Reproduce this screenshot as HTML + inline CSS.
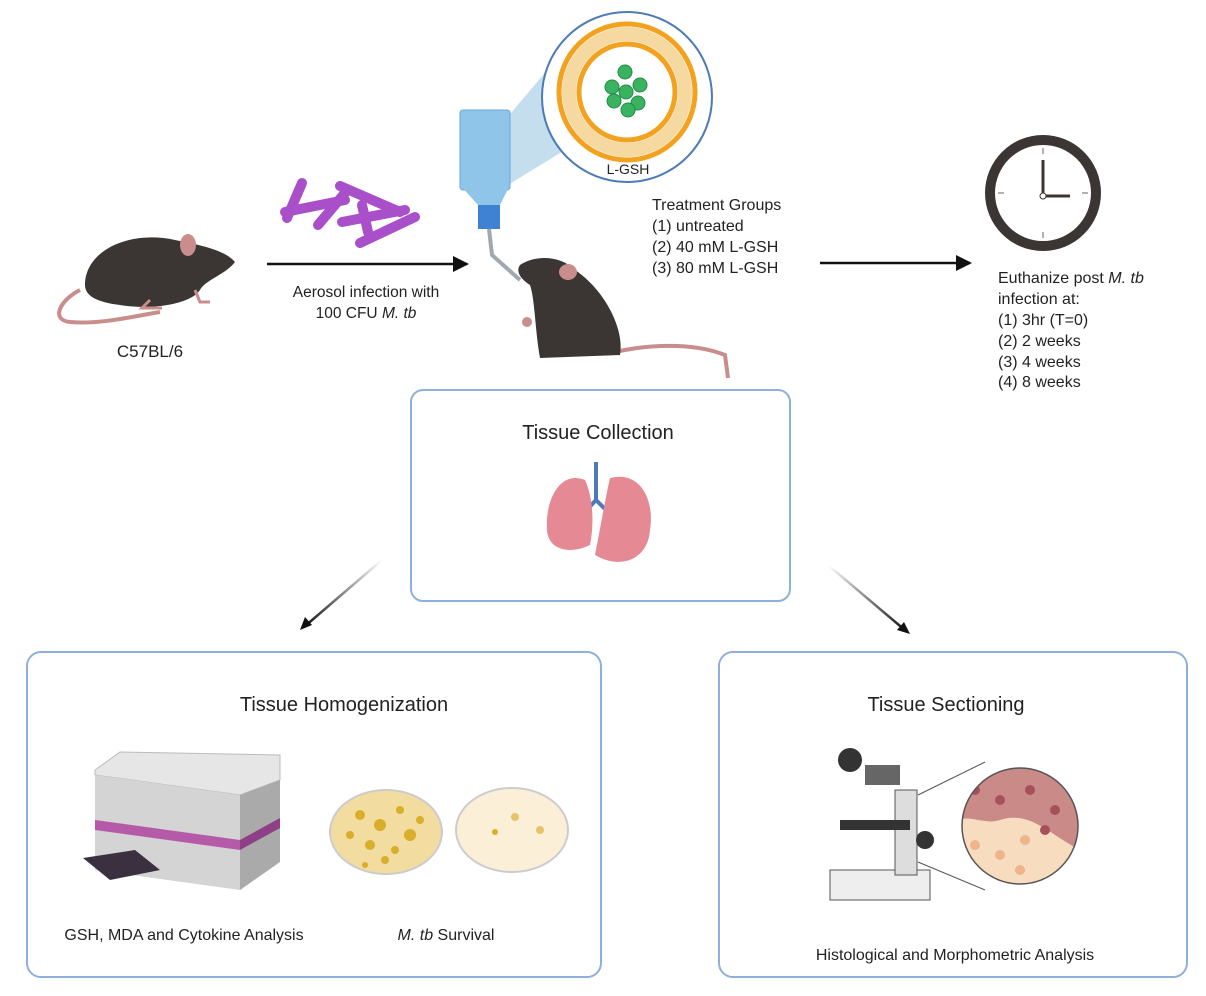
<!DOCTYPE html>
<html><head><style>
body{margin:0;background:#fff;}
svg{display:block;font-family:"Liberation Sans",sans-serif;}
</style></head><body>
<svg width="1206" height="996" viewBox="0 0 1206 996" xmlns="http://www.w3.org/2000/svg">
<defs>
<marker id="ah2" markerWidth="16" markerHeight="16" refX="14" refY="8" orient="auto" markerUnits="userSpaceOnUse"><path d="M0,0 L16,8 L0,16 z" fill="#111"/></marker>
<linearGradient id="g1" x1="1" y1="0" x2="0" y2="1"><stop offset="0" stop-color="#111" stop-opacity="0"/><stop offset="1" stop-color="#111"/></linearGradient>
<linearGradient id="g2" x1="0" y1="0" x2="1" y2="1"><stop offset="0" stop-color="#111" stop-opacity="0"/><stop offset="1" stop-color="#111"/></linearGradient>
</defs>

<!-- mouse 1 -->
<path d="M80,290 C60,300 50,320 70,322 C100,325 140,315 160,312" fill="none" stroke="#c98d8d" stroke-width="4"/>
<path d="M85,285 C85,250 130,230 175,240 C200,245 225,250 235,262 C225,275 205,280 200,290 C190,305 150,310 120,305 C95,302 85,295 85,285z" fill="#3b3633"/>
<ellipse cx="188" cy="245" rx="8" ry="11" fill="#c98d8d"/>
<path d="M150,300 l-8,8 h20 M195,290 l5,12 h10" stroke="#c98d8d" stroke-width="3" fill="none"/>
<text x="150" y="357" font-size="17" text-anchor="middle" fill="#222">C57BL/6</text>

<!-- bacteria -->
<g stroke="#a84fc9" stroke-width="10" stroke-linecap="round" fill="none">
<path d="M287,218 L302,183"/><path d="M285,212 L345,200"/><path d="M318,225 L345,193"/>
<path d="M340,186 L400,212"/><path d="M342,222 L405,210"/><path d="M360,243 L415,217"/><path d="M362,205 L368,232"/>
</g>

<!-- arrow 1 -->
<line x1="267" y1="264" x2="467" y2="264" stroke="#111" stroke-width="2.5" marker-end="url(#ah2)"/>
<text x="366" y="297" font-size="15.5" text-anchor="middle" fill="#222">Aerosol infection with</text>
<text x="366" y="318" font-size="15.5" text-anchor="middle" fill="#222">100 CFU <tspan font-style="italic">M. tb</tspan></text>

<!-- bottle -->
<polygon points="505,120 560,55 565,150 508,185" fill="#b7d6e8" opacity="0.8"/>
<rect x="460" y="110" width="50" height="80" rx="3" fill="#8fc5e8" stroke="#6aa8d8"/>
<path d="M460,185 L510,185 L500,205 L478,205z" fill="#8fc5e8"/>
<rect x="478" y="205" width="22" height="24" fill="#3f82d4"/>
<path d="M489,229 L492,255 L520,280" stroke="#a0a8b0" stroke-width="4" fill="none"/>

<!-- liposome circle -->
<circle cx="627" cy="97" r="85" fill="#fff" stroke="#4d7bb5" stroke-width="2"/>
<circle cx="627" cy="92" r="68" fill="none" stroke="#f3a21f" stroke-width="5"/>
<circle cx="627" cy="92" r="58" fill="none" stroke="#f6d9a0" stroke-width="14"/>
<circle cx="627" cy="92" r="48" fill="none" stroke="#f3a21f" stroke-width="5"/>
<g fill="#39b360" stroke="#23894a">
<circle cx="625" cy="72" r="7"/><circle cx="612" cy="87" r="7"/><circle cx="640" cy="85" r="7"/>
<circle cx="626" cy="92" r="7"/><circle cx="614" cy="101" r="7"/><circle cx="638" cy="103" r="7"/><circle cx="628" cy="110" r="7"/>
</g>
<text x="628" y="174" font-size="14" text-anchor="middle" fill="#222">L-GSH</text>

<!-- mouse 2 -->
<path d="M615,352 C660,342 700,345 725,355 L728,378" fill="none" stroke="#c98d8d" stroke-width="4"/>
<path d="M520,265 C535,255 560,255 575,270 C605,290 625,330 620,355 L540,358 C535,330 535,300 530,285 C522,280 515,272 520,265z" fill="#3b3633"/>
<ellipse cx="568" cy="272" rx="9" ry="8" fill="#c98d8d"/>
<circle cx="527" cy="322" r="5" fill="#c98d8d"/>

<!-- treatment text -->
<g font-size="16" fill="#222">
<text x="652" y="210">Treatment Groups</text>
<text x="652" y="231">(1) untreated</text>
<text x="652" y="252">(2) 40 mM L-GSH</text>
<text x="652" y="273">(3) 80 mM L-GSH</text>
</g>
<line x1="820" y1="263" x2="970" y2="263" stroke="#111" stroke-width="2.5" marker-end="url(#ah2)"/>

<!-- clock -->
<circle cx="1043" cy="193" r="58" fill="#3b3633"/>
<circle cx="1043" cy="193" r="48" fill="#fff"/>
<g stroke="#999" stroke-width="1.5">
<line x1="1043" y1="148" x2="1043" y2="154"/><line x1="1043" y1="232" x2="1043" y2="238"/>
<line x1="998" y1="193" x2="1004" y2="193"/><line x1="1082" y1="193" x2="1088" y2="193"/>
</g>
<line x1="1043" y1="196" x2="1043" y2="160" stroke="#3b3633" stroke-width="3"/>
<line x1="1043" y1="196" x2="1070" y2="196" stroke="#3b3633" stroke-width="3"/>
<circle cx="1043" cy="196" r="3" fill="#fff" stroke="#3b3633"/>
<g font-size="16" fill="#222">
<text x="998" y="283">Euthanize post <tspan font-style="italic">M. tb</tspan></text>
<text x="998" y="304">infection at:</text>
<text x="998" y="325">(1) 3hr (T=0)</text>
<text x="998" y="346">(2) 2 weeks</text>
<text x="998" y="367">(3) 4 weeks</text>
<text x="998" y="387">(4) 8 weeks</text>
</g>

<!-- tissue collection -->
<rect x="411" y="390" width="379" height="211" rx="12" fill="#fff" stroke="#8fb0dc" stroke-width="2"/>
<text x="598" y="439" font-size="20" text-anchor="middle" fill="#222">Tissue Collection</text>
<path d="M596,462 V500 L585,512 M596,500 L608,512" stroke="#4d7bb5" stroke-width="4" fill="none"/>
<path d="M585,480 C560,470 545,500 547,530 C548,550 570,555 590,545 C595,520 592,495 585,480z" fill="#e58a95"/>
<path d="M610,478 C640,470 655,500 650,530 C648,560 620,570 595,555 C600,530 605,500 610,478z" fill="#e58a95"/>

<!-- diagonal arrows -->
<line x1="382" y1="560" x2="304" y2="627" stroke="url(#g1)" stroke-width="2.5"/>
<path d="M300,630 L305,617 L312,625z" fill="#111"/>
<line x1="828" y1="565" x2="906" y2="631" stroke="url(#g2)" stroke-width="2.5"/>
<path d="M910,634 L897,630 L904,622z" fill="#111"/>

<!-- left box -->
<rect x="27" y="652" width="574" height="325" rx="14" fill="#fff" stroke="#8fb0dc" stroke-width="2"/>
<text x="344" y="711" font-size="20" text-anchor="middle" fill="#222">Tissue Homogenization</text>
<polygon points="95,770 120,752 280,755 280,780 240,795 95,775" fill="#e6e6e6" stroke="#bbb"/>
<polygon points="95,775 240,795 240,890 95,870" fill="#d4d4d4"/>
<polygon points="240,795 280,780 280,862 240,890" fill="#aaa"/>
<polygon points="95,820 240,840 240,850 95,830" fill="#b55aa8"/>
<polygon points="240,840 280,818 280,828 240,850" fill="#8e3f86"/>
<polygon points="83,858 135,850 160,870 110,880" fill="#3a3040"/>
<ellipse cx="386" cy="832" rx="56" ry="42" fill="#f2dca0" stroke="#ccc" stroke-width="2"/>
<g fill="#d8ae2a"><circle cx="360" cy="815" r="5"/><circle cx="380" cy="825" r="6"/><circle cx="400" cy="810" r="4"/><circle cx="410" cy="835" r="6"/><circle cx="370" cy="845" r="5"/><circle cx="395" cy="850" r="4"/><circle cx="350" cy="835" r="4"/><circle cx="420" cy="820" r="4"/><circle cx="385" cy="860" r="4"/><circle cx="365" cy="865" r="3"/></g>
<ellipse cx="512" cy="830" rx="56" ry="42" fill="#fbefd7" stroke="#ccc" stroke-width="2"/>
<circle cx="515" cy="817" r="4" fill="#e6c26a"/><circle cx="495" cy="832" r="3" fill="#d8ae2a"/><circle cx="540" cy="830" r="4" fill="#e6c26a"/>
<text x="184" y="940" font-size="16" text-anchor="middle" fill="#222">GSH, MDA and Cytokine Analysis</text>
<text x="446" y="940" font-size="16" text-anchor="middle" fill="#222"><tspan font-style="italic">M. tb</tspan> Survival</text>

<!-- right box -->
<rect x="719" y="652" width="468" height="325" rx="14" fill="#fff" stroke="#8fb0dc" stroke-width="2"/>
<text x="946" y="711" font-size="20" text-anchor="middle" fill="#222">Tissue Sectioning</text>
<rect x="830" y="870" width="100" height="30" fill="#eee" stroke="#555"/>
<rect x="895" y="790" width="22" height="85" fill="#ddd" stroke="#555"/>
<rect x="840" y="820" width="70" height="10" fill="#333"/>
<circle cx="850" cy="760" r="12" fill="#333"/><rect x="865" y="765" width="35" height="20" fill="#666"/>
<circle cx="925" cy="840" r="9" fill="#333"/>
<line x1="918" y1="795" x2="985" y2="762" stroke="#555"/><line x1="918" y1="862" x2="985" y2="890" stroke="#555"/>
<clipPath id="cc"><circle cx="1020" cy="826" r="58"/></clipPath>
<g clip-path="url(#cc)">
<rect x="960" y="765" width="120" height="125" fill="#f7dcc0"/>
<path d="M960,765 H1080 V850 C1050,835 1030,810 1000,820 C985,825 970,815 960,820z" fill="#c98a88"/>
<g fill="#a5515a"><circle cx="975" cy="790" r="5"/><circle cx="1000" cy="800" r="5"/><circle cx="1030" cy="790" r="5"/><circle cx="1055" cy="810" r="5"/><circle cx="1045" cy="830" r="5"/></g>
<g fill="#efb48c"><circle cx="975" cy="845" r="5"/><circle cx="1000" cy="855" r="5"/><circle cx="1025" cy="840" r="5"/><circle cx="1020" cy="870" r="5"/><circle cx="990" cy="880" r="5"/></g>
</g>
<circle cx="1020" cy="826" r="58" fill="none" stroke="#555" stroke-width="1.5"/>
<text x="955" y="960" font-size="16" text-anchor="middle" fill="#222">Histological and Morphometric Analysis</text>
</svg>
</body></html>
